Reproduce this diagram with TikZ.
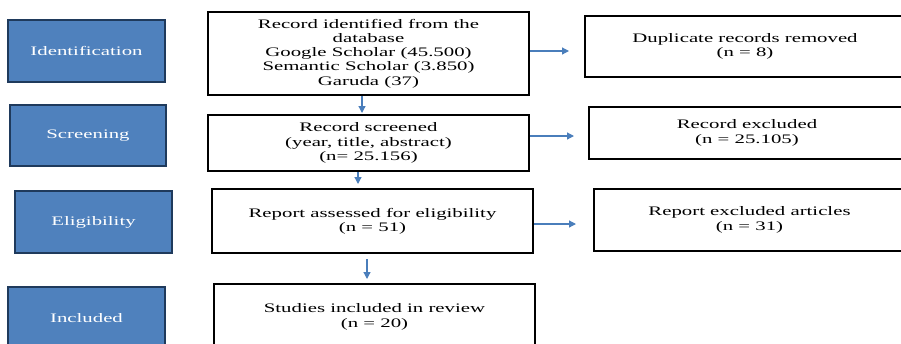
\documentclass[tikz,border=0pt]{standalone}
\usepackage{fontspec}
\setmainfont[FakeStretch=1.6]{Liberation Serif}
\usetikzlibrary{arrows.meta}
\definecolor{phaseblue}{HTML}{4F81BD}
\definecolor{phaseedge}{HTML}{1F3A5C}
\definecolor{arrowblue}{HTML}{4A7EBB}
\begin{document}
\begin{tikzpicture}[x=1pt, y=-1pt,
    txt/.style={font=\fontsize{13}{14.3}\selectfont, align=center, inner sep=0pt},
    phase/.style={txt, draw=phaseedge, line width=2.5pt, fill=phaseblue, text=white},
    stepbox/.style={txt, draw=black, line width=2pt, fill=white},
    flow/.style={arrowblue, line width=1.2pt, -{Triangle[length=7pt, width=7pt]}}]
    \path[use as bounding box, clip] (0,0) rectangle (901,343);

    % Phases on the left
    \node[phase, minimum width=157pt, minimum height=62pt] (ident) at (86.5,51) {Identification};
    \node[phase, minimum width=156pt, minimum height=61pt] (screen) at (88,135.5) {Screening};
    \node[phase, minimum width=157pt, minimum height=62pt] (elig) at (93.5,222) {Eligibility};
    \node[phase, minimum width=157pt, minimum height=63pt] (incl) at (86.5,318.5) {Included};

    % Main flow
    \node[stepbox, minimum width=321pt, minimum height=83pt] (record) at (368.5,53.5) {Record identified from the\\database\\Google Scholar (45.500)\\Semantic Scholar (3.850)\\Garuda (37)};
    \node[stepbox, minimum width=321pt, minimum height=56pt] (screened) at (368.5,143) {Record screened\\(year, title, abstract)\\(n= 25.156)};
    \node[stepbox, minimum width=321pt, minimum height=64pt] (assessed) at (372.5,221) {Report assessed for eligibility\\(n = 51)};
    \node[stepbox, minimum width=321pt, minimum height=66pt] (studies) at (374.5,317) {Studies included in review\\(n = 20)};

    % Removed records
    \node[stepbox, minimum width=320pt, minimum height=61pt] (dupl) at (745,46.5) {Duplicate records removed\\(n = 8)};
    \node[stepbox, minimum width=316pt, minimum height=52pt] (excl) at (747,133) {Record excluded\\(n = 25.105)};
    \node[stepbox, minimum width=311pt, minimum height=62pt] (repexcl) at (749.5,220) {Report excluded articles\\(n = 31)};

    % Arrows
    \draw[flow, shorten >=15pt] ([yshift=2.5pt]record.east) -- ([yshift=2.5pt]record.east -| dupl.west);
    \draw[flow, shorten >=14pt] ([yshift=7pt]screened.east) -- ([yshift=7pt]screened.east -| excl.west);
    \draw[flow, shorten >=17pt] ([yshift=-3pt]assessed.east) -- ([yshift=-3pt]assessed.east -| repexcl.west);
    \draw[flow, shorten >=1pt] ([xshift=-6.5pt]record.south) -- ([xshift=-6.5pt]record.south |- screened.north);
    \draw[flow, shorten >=4pt] ([xshift=-10.5pt]screened.south) -- ([xshift=-10.5pt]screened.south |- assessed.north);
    \draw[flow, shorten <=5pt, shorten >=4pt] ([xshift=-5.5pt]assessed.south) -- ([xshift=-5.5pt]assessed.south |- studies.north);
\end{tikzpicture}
\end{document}
